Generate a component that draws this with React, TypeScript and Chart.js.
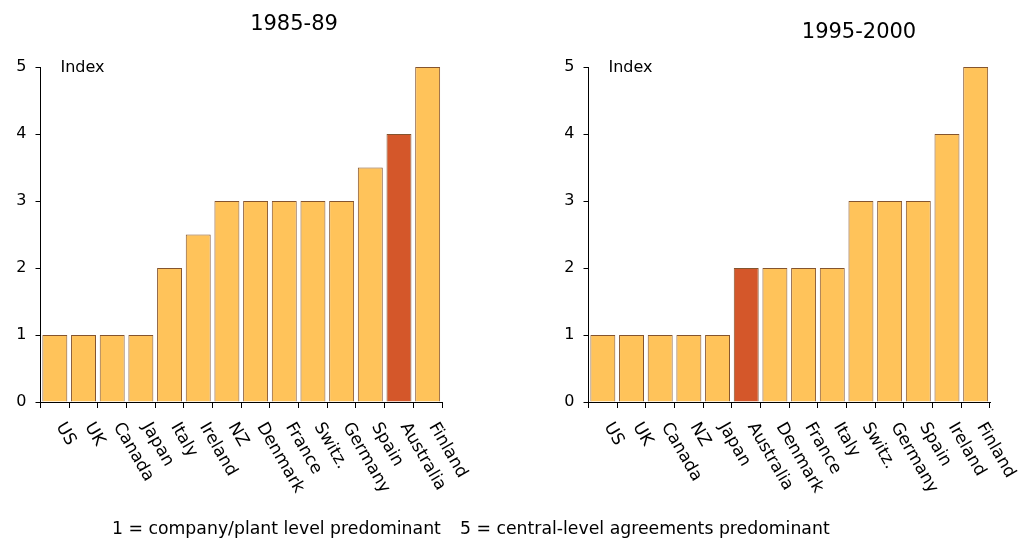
import React, { useEffect, useRef } from 'react';
import { Chart, registerables } from 'chart.js';

Chart.register(...registerables);

// ---- Data ----
const labels1985 = ['US', 'UK', 'Canada', 'Japan', 'Italy', 'Ireland', 'NZ', 'Denmark', 'France', 'Switz.', 'Germany', 'Spain', 'Australia', 'Finland'];
const values1985 = [1, 1, 1, 1, 2, 2.5, 3, 3, 3, 3, 3, 3.5, 4, 5];
const labels1995 = ['US', 'UK', 'Canada', 'NZ', 'Japan', 'Australia', 'Denmark', 'France', 'Italy', 'Switz.', 'Germany', 'Spain', 'Ireland', 'Finland'];
const values1995 = [1, 1, 1, 1, 1, 2, 2, 2, 2, 3, 3, 3, 4, 5];
const highlightCountry = 'Australia';
const yTickValues = [0, 1, 2, 3, 4, 5];
const title1985 = '1985-89';
const title1995 = '1995-2000';
const yAxisLabel = 'Index';
const captionLeft = '1 = company/plant level predominant';
const captionRight = '5 = central-level agreements predominant';

const W = 1019;
const H = 541;
const FONT = '"DejaVu Sans", Verdana, sans-serif';
const FILL = '#FFC35A';
const FILL_HI = '#D4572A';
const BORDER = '#84542E';

type PanelProps = {
  labels: string[];
  values: number[];
  title: string;
  titleX: number;
  titleY: number;
  plotLeft: number;
  plotRight: number;
  showCaption: boolean;
};

function Panel({ labels, values, title, titleX, titleY, plotLeft, plotRight, showCaption }: PanelProps) {
  const ref = useRef<HTMLCanvasElement>(null);
  useEffect(() => {
    const canvas = ref.current!;
    const plotTop = 67;
    const plotBottom = 402;
    const yAxisWidth = 40;
    const xAxisHeight = 10;
    const textPlugin = {
      id: 'textPlugin',
      afterDraw(chart: any) {
        const ctx = chart.ctx;
        const area = chart.chartArea;
        const xs = chart.scales.x;
        ctx.save();
        ctx.fillStyle = '#000';
        // title
        ctx.font = `21px ${FONT}`;
        ctx.textAlign = 'center';
        ctx.textBaseline = 'middle';
        ctx.fillText(title, titleX, titleY);
        // Index label
        ctx.font = `16px ${FONT}`;
        ctx.textAlign = 'left';
        ctx.fillText(yAxisLabel, area.left + 20, area.top + 1);
        // rotated category labels
        ctx.font = `17px ${FONT}`;
        labels.forEach((lab, i) => {
          const x = xs.getPixelForValue(i) + 5;
          const y = area.bottom + 22;
          ctx.save();
          ctx.translate(x, y);
          ctx.rotate(Math.PI / 3);
          ctx.textAlign = 'left';
          ctx.textBaseline = 'middle';
          ctx.fillText(lab, 0, 0);
          ctx.restore();
        });
        if (showCaption) {
          ctx.font = `17.3px ${FONT}`;
          ctx.textAlign = 'left';
          ctx.textBaseline = 'middle';
          ctx.fillText(captionLeft, 112, 530);
          ctx.fillText(captionRight, 460, 530);
        }
        ctx.restore();
      },
    };
    const chart = new Chart(canvas, {
      type: 'bar',
      data: {
        labels,
        datasets: [
          {
            data: values,
            backgroundColor: labels.map((l) => (l === highlightCountry ? FILL_HI : FILL)),
            borderColor: BORDER,
            borderWidth: 1,
            barPercentage: 0.87,
            categoryPercentage: 1,
          },
        ],
      },
      options: {
        responsive: false,
        animation: false,
        events: [],
        layout: {
          padding: {
            left: plotLeft - yAxisWidth,
            right: W - plotRight,
            top: plotTop,
            bottom: H - plotBottom - xAxisHeight,
          },
        },
        plugins: {
          legend: { display: false },
          tooltip: { enabled: false },
          title: { display: false },
        },
        scales: {
          x: {
            offset: true,
            grid: {
              offset: true,
              drawOnChartArea: false,
              drawTicks: true,
              tickLength: 6,
              color: '#000',
            },
            border: { display: true, color: '#000', width: 1 },
            ticks: { display: false },
            afterFit(scale: any) {
              scale.height = xAxisHeight;
            },
          },
          y: {
            min: 0,
            max: 5,
            afterBuildTicks(scale: any) {
              scale.ticks = yTickValues.map((v) => ({ value: v }));
            },
            grid: {
              drawOnChartArea: false,
              drawTicks: true,
              tickLength: 5,
              color: '#000',
            },
            border: { display: true, color: '#000', width: 1 },
            ticks: {
              color: '#000',
              font: { family: FONT, size: 16 },
              padding: 9,
              callback: (v: any) => String(v),
            },
            afterFit(scale: any) {
              scale.width = yAxisWidth;
            },
          },
        },
      },
      plugins: [textPlugin],
    });
    return () => chart.destroy();
  }, []);
  return (
    <canvas
      ref={ref}
      width={W}
      height={H}
      style={{ position: 'absolute', left: 0, top: 0, width: W, height: H }}
    />
  );
}

export default function App() {
  return (
    <div style={{ position: 'fixed', left: 0, top: 0, width: W, height: H, background: '#fff' }}>
      <Panel
        labels={labels1985}
        values={values1985}
        title={title1985}
        titleX={294}
        titleY={25}
        plotLeft={40.5}
        plotRight={442}
        showCaption={true}
      />
      <Panel
        labels={labels1995}
        values={values1995}
        title={title1995}
        titleX={859}
        titleY={33}
        plotLeft={588.5}
        plotRight={990}
        showCaption={false}
      />
    </div>
  );
}
